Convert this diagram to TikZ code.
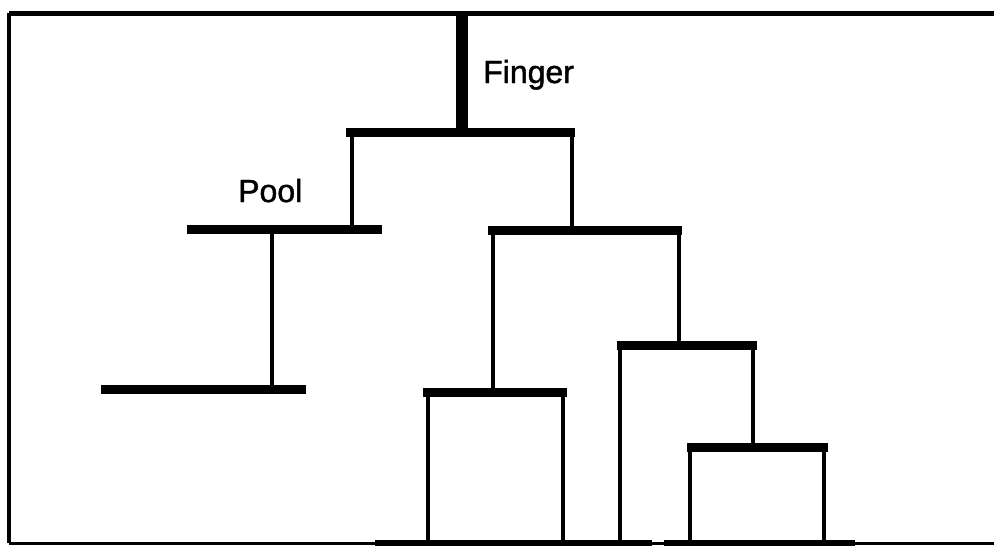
\documentclass[tikz,border=0pt]{standalone}
\usepackage{fontspec}
\setmainfont{Liberation Sans}
\newfontfamily\labelfont[FakeBold=1.4]{Liberation Sans}
\usetikzlibrary{arrows.meta}
\newcommand{\labelsize}{\labelfont\fontsize{32}{38}\selectfont}

\begin{document}
\begin{tikzpicture}[x=1pt,y=-1pt]
                \useasboundingbox (0,0) rectangle (994,546);

                % frame
                \coordinate (tl) at (9,13);
                \coordinate (tr) at (994,13);
                \coordinate (bl) at (9,543);
                \coordinate (br) at (994,543);
                \draw[line width=5pt] (tl) -- (tr);
                \draw[line width=4pt] (tl) -- (bl);
                \draw[line width=3pt] (bl) -- (br);
                \coordinate (g1) at (375,542.5);
                \coordinate (g2) at (652,542.5);
                \coordinate (g3) at (664,542.5);
                \coordinate (g4) at (855,542.5);
                \draw[line width=6pt] (g1) -- (g2);
                \draw[line width=6pt] (g3) -- (g4);

                % forks
                \begin{scope}[line width=9pt]
                    \draw (346,132) -- (575,132);
                    \draw (187,229) -- (382,229);
                    \draw (101,389) -- (306,389);
                    \draw (488,230) -- (682,230);
                    \draw (423,392) -- (567,392);
                    \draw (617,345) -- (757,345);
                    \draw (687,447) -- (828,447);
                \end{scope}

                % joints
                \coordinate (root) at (462,13);
                \coordinate (a) at (462,132);
                \coordinate (a1) at (352,132);
                \coordinate (a2) at (572,132);
                \coordinate (pool) at (352,229);
                \coordinate (pool1) at (272,229);
                \coordinate (p) at (272,389);
                \coordinate (c) at (572,230);
                \coordinate (c1) at (493,230);
                \coordinate (c2) at (679,230);
                \coordinate (d) at (493,392);
                \coordinate (d1) at (428,392);
                \coordinate (d2) at (563,392);
                \coordinate (e) at (679,345);
                \coordinate (e1) at (620,345);
                \coordinate (e2) at (753,345);
                \coordinate (f) at (753,447);
                \coordinate (f1) at (690,447);
                \coordinate (f2) at (824,447);
                \coordinate (d1b) at (428,543);
                \coordinate (d2b) at (563,543);
                \coordinate (e1b) at (620,543);
                \coordinate (f1b) at (690,543);
                \coordinate (f2b) at (824,543);

                \draw[line width=12pt] (root) -- (a);

                \begin{scope}[every edge/.style={draw=black,line width=4pt}]
                    \path (a1) edge (pool);
                    \path (a2) edge (c);

                    \path (pool1) edge (p);

                    \path (c1) edge (d);
                    \path (c2) edge (e);

                    \path (d1) edge (d1b);
                    \path (d2) edge (d2b);

                    \path (e1) edge (e1b);
                    \path (e2) edge (f);

                    \path (f1) edge (f1b);
                    \path (f2) edge (f2b);
                \end{scope}

                \node[anchor=base west,inner sep=0pt,font=\labelsize] (finger) at (483,83) {Finger};
                \node[anchor=base west,inner sep=0pt,font=\labelsize] (poollabel) at (238,202) {Pool};
            \end{tikzpicture}
\end{document}
